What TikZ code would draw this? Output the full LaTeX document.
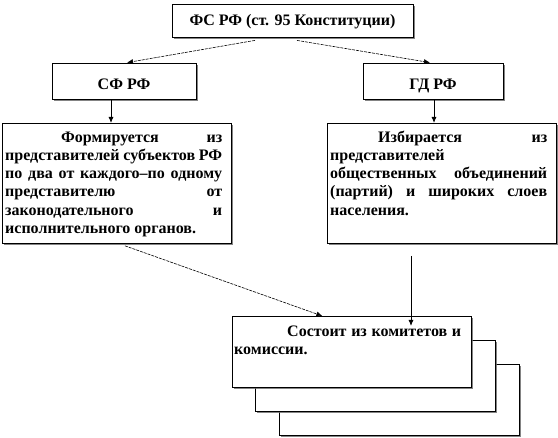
\documentclass[tikz,border=0pt]{standalone}
\usepackage{fontspec}
\setmainfont{Liberation Serif}
\usetikzlibrary{arrows.meta,shadows,calc}
\newcommand{\nohyph}{\hyphenpenalty=10000\relax\exhyphenpenalty=10000\relax}
\begin{document}
\begin{tikzpicture}[x=1pt,y=-1pt,
  box/.style={draw=black, line width=0.8pt, fill=white, rectangle, inner sep=0pt,
    drop shadow={shadow xshift=1.6pt, shadow yshift=-1.6pt, fill=black!60, opacity=0.8}},
  lbl/.style={font=\bfseries\fontsize{16}{18.2}\selectfont},
  txt/.style={font=\bfseries\fontsize{16}{18.2}\selectfont,
    align=justify, inner sep=0pt, anchor=north west},
  arr/.style={-{Latex[length=6pt,width=5pt]}, line width=0.9pt},
  darr/.style={-{Latex[length=6pt,width=5pt]}, line width=0.6pt, dash pattern=on 3pt off 1pt},
]
\fill[white] (0,0) rectangle (558,438);
\useasboundingbox (0,0) rectangle (558,438);

% top level
\node[box, lbl, minimum width=241pt, minimum height=33pt, text height=12pt, text depth=2pt]
  (fs) at (292.5,20.5) {ФС РФ (ст. 95 Конституции)};
\node[box, lbl, minimum width=144pt, minimum height=36pt, text height=18pt, text depth=0pt]
  (sf) at (124,81) {СФ РФ};
\node[box, lbl, minimum width=140pt, minimum height=36pt, text height=18pt, text depth=0pt]
  (gd) at (433,81) {ГД РФ};

% description boxes
\node[box, minimum width=229pt, minimum height=120pt, anchor=north west] (form) at (2,123) {};
\node[txt, text width=217pt] (formtxt) at (5,129.3)
  {\nohyph\hspace*{56pt}\strut Формируется из\linebreak
   представителей субъектов РФ\linebreak
   по два от каждого–по одному\linebreak
   представителю от\linebreak
   законодательного и\linebreak
   исполнительного органов.};

\node[box, minimum width=229pt, minimum height=120pt, anchor=north west] (izb) at (327,123) {};
\node[txt, text width=217pt] (izbtxt) at (330,129.3)
  {\nohyph\hspace*{48pt}\strut Избирается из\linebreak
   представителей\newline
   общественных объединений\linebreak
   (партий) и широких слоев\linebreak
   населения.};

% stacked boxes
\node[box, minimum width=240pt, minimum height=71pt, anchor=north west] (back) at (279,364) {};
\node[box, minimum width=240pt, minimum height=71pt, anchor=north west] (mid) at (255,340) {};
\node[box, minimum width=239pt, minimum height=71pt, anchor=north west] (front) at (232,316) {};
\node[txt, text width=227pt] (fronttxt) at (234,323.3)
  {\nohyph\hspace*{53pt}\strut Состоит из комитетов и\linebreak
   комиссии.};

% connectors
\draw[darr] ([xshift=-37.5pt,yshift=-3pt]fs.south) -- ([xshift=3pt]sf.north);
\draw[darr] ([xshift=4.5pt,yshift=-3pt]fs.south) -- ([xshift=-3pt]gd.north);
\draw[arr] ([xshift=-13pt]sf.south) -- ([xshift=-13pt]sf.south |- form.north);
\draw[arr] ([xshift=1pt]gd.south) -- ([xshift=1pt]gd.south |- izb.north);
\draw[darr] ([xshift=8pt,yshift=-2pt]form.south) -- ([xshift=-29.5pt]front.north);
\coordinate (vstart) at (411,256);
\draw[arr] (vstart) -- ($(vstart |- front.north)+(0,10)$);
\end{tikzpicture}
\end{document}
